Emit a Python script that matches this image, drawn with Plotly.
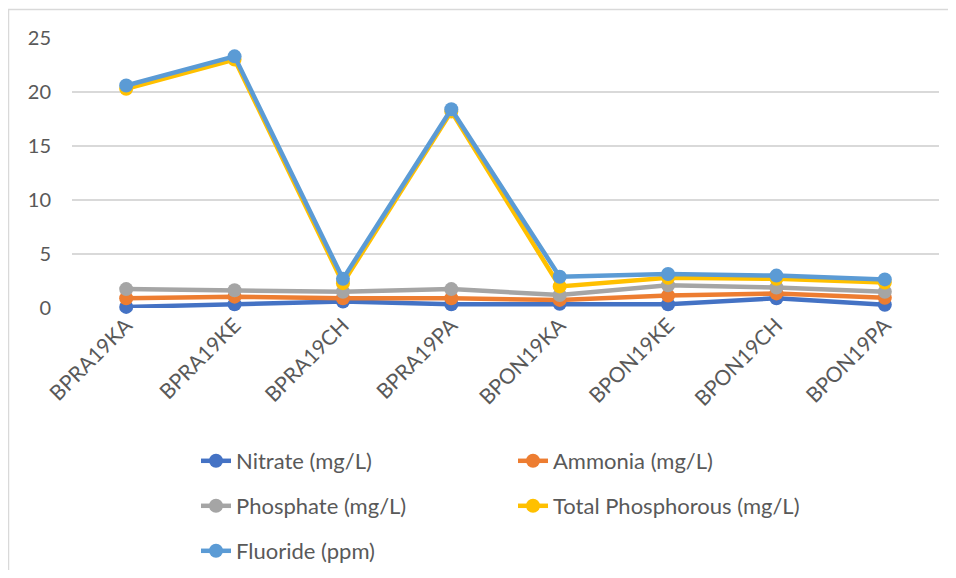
import plotly.graph_objects as go

sites = ["BPRA19KA", "BPRA19KE", "BPRA19CH", "BPRA19PA",
         "BPON19KA", "BPON19KE", "BPON19CH", "BPON19PA"]

nitrate = [0.1, 0.35, 0.6, 0.35, 0.4, 0.35, 0.9, 0.3]
ammonia = [0.9, 1.05, 0.9, 0.9, 0.75, 1.15, 1.35, 0.95]
phosphate = [1.75, 1.65, 1.5, 1.75, 1.2, 2.1, 1.9, 1.5]
total_phosphorous = [20.3, 23.0, 2.3, 18.2, 2.0, 2.8, 2.7, 2.35]
fluoride = [20.6, 23.3, 2.7, 18.4, 2.9, 3.15, 3.0, 2.65]

y_ticks = [0, 5, 10, 15, 20, 25]

series = [
    ("Nitrate (mg/L)", nitrate, "#4472C4", "legend"),
    ("Ammonia (mg/L)", ammonia, "#ED7D31", "legend"),
    ("Phosphate (mg/L)", phosphate, "#A5A5A5", "legend2"),
    ("Total Phosphorous (mg/L)", total_phosphorous, "#FFC000", "legend2"),
    ("Fluoride (ppm)", fluoride, "#5B9BD5", "legend3"),
]

FONT = "Lato"
TXT = "#595959"

fig = go.Figure()
for name, vals, color, leg in series:
    fig.add_trace(go.Scatter(
        x=sites, y=vals, name=name, mode="lines+markers",
        line=dict(color=color, width=4.5),
        marker=dict(color=color, size=14),
        cliponaxis=False, legend=leg,
    ))

# page body has an 8px margin on every side; keep the figure inside the window
OFF = 8
W, H = 956 - 2 * OFF, 578 - 2 * OFF
ml, mr, mt, mb = 72 - OFF, W - (939 - OFF), 38 - OFF, H - (308 - OFF)
pw = W - ml - mr
ph = H - mt - mb

def px_x(x):  # screen px -> paper
    return (x - OFF - ml) / pw

def px_y(y):
    return (H - mb - (y - OFF)) / ph

def cx(x):  # screen px -> container fraction
    return (x - OFF) / W

def cy(y):
    return 1 - (y - OFF) / H

leg_common = dict(orientation="h", font=dict(family=FONT, size=22, color=TXT),
                  xref="container", yref="container",
                  xanchor="left", yanchor="middle", entrywidth=272,
                  bgcolor="rgba(0,0,0,0)", itemwidth=30)

fig.update_layout(
    width=W, height=H,
    margin=dict(l=ml, r=mr, t=mt, b=mb, autoexpand=False),
    paper_bgcolor="white", plot_bgcolor="white",
    font=dict(family=FONT, color=TXT),
    showlegend=True,
    legend=dict(**leg_common, x=cx(196), y=cy(461)),
    legend2=dict(**leg_common, x=cx(196), y=cy(506)),
    legend3=dict(**leg_common, x=cx(196), y=cy(551)),
    xaxis=dict(type="category", range=[-0.5, 7.5], showgrid=False,
               showline=False, ticks="", tickangle=-45, automargin=False,
               tickfont=dict(family=FONT, size=21, color=TXT)),
    yaxis=dict(range=[0, 25], tickvals=y_ticks, showgrid=True,
               gridcolor="#D9D9D9", gridwidth=1.5, zeroline=False,
               showline=False, ticks="", ticklabelstandoff=20, automargin=False,
               tickfont=dict(family=FONT, size=20, color=TXT)),
    shapes=[dict(type="rect", xref="paper", yref="paper",
                 x0=px_x(8.5), x1=px_x(1000), y0=px_y(9.5), y1=px_y(640),
                 line=dict(color="#D9D9D9", width=1.5), layer="below")],
)

fig.write_html("out.html")
